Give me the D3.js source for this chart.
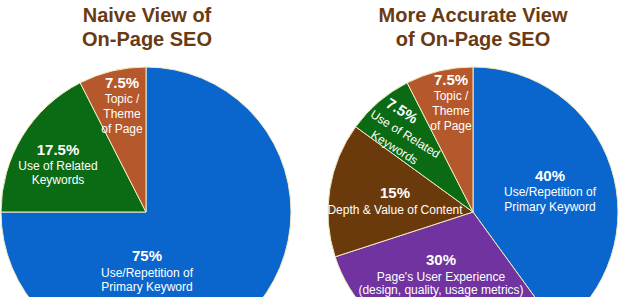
<!DOCTYPE html>
<html><head><meta charset="utf-8">
<script src="https://cdn.jsdelivr.net/npm/d3@7/dist/d3.min.js"></script>
<style>html,body{margin:0;padding:0;background:#fff;}svg{display:block;}</style>
</head><body>
<svg id="c" width="620" height="297"></svg>
<script>
// ---- data ----
const leftTitle = ["Naive View of", "On-Page SEO"];
const rightTitle = ["More Accurate View", "of On-Page SEO"];

const leftCategories = ["Use/Repetition of Primary Keyword", "Use of Related Keywords", "Topic / Theme of Page"];
const leftValues = [75, 17.5, 7.5];
const leftPctLabels = ["75%", "17.5%", "7.5%"];
const leftSubLabels = [["Use/Repetition of", "Primary Keyword"], ["Use of Related", "Keywords"], ["Topic /", "Theme", "of Page"]];

const rightCategories = ["Use/Repetition of Primary Keyword", "Page's User Experience", "Depth & Value of Content", "Use of Related Keywords", "Topic / Theme of Page"];
const rightValues = [40, 30, 15, 7.5, 7.5];
const rightPctLabels = ["40%", "30%", "15%", "7.5%", "7.5%"];
const rightSubLabels = [["Use/Repetition of", "Primary Keyword"], ["Page's User Experience", "(design, quality, usage metrics)"], ["Depth & Value of Content"], ["Use of Related", "Keywords"], ["Topic /", "Theme", "of Page"]];

// ---- styling / layout ----
const colorMap = {
  "Use/Repetition of Primary Keyword": "#0a66cc",
  "Use of Related Keywords": "#0b6a14",
  "Topic / Theme of Page": "#b5582b",
  "Page's User Experience": "#7133a0",
  "Depth & Value of Content": "#6b3a0c"
};
const font = "'Liberation Sans', Arial, sans-serif";
const svg = d3.select("#c");

// label layout (x, first baseline, line step, rotation, per-line x offsets)
const leftLabelLayout = [
  {x: 147, y: 261, sub: [277, 291]},
  {x: 58, y: 155, sub: [170, 184]},
  {x: 122, y: 88, sub: [103, 118, 133]}
];
const rightLabelLayout = [
  {x: 550, y: 181, sub: [196, 211]},
  {x: 441, y: 265, sub: [281, 294]},
  {x: 395, y: 198, sub: [214]},
  {x: 402, y: 111, rot: 32, pctY: 5, subPos: [[15, 22], [13, 39]]},
  {x: 451, y: 85, sub: [100, 115, 130]}
];

function drawPie(cx, cy, r, cats, vals, pct, subs, layout, title, titleX) {
  const pie = d3.pie().sort(null).value(d => d.v);
  const arc = d3.arc().innerRadius(0).outerRadius(r);
  const data = cats.map((c, i) => ({c, v: vals[i]}));
  const g = svg.append("g").attr("transform", `translate(${cx},${cy})`);
  g.selectAll("path").data(pie(data)).join("path")
    .attr("d", arc)
    .attr("fill", d => colorMap[d.data.c])
    .attr("stroke", "#f3ebc0")
    .attr("stroke-width", 1)
    .attr("stroke-linejoin", "round");

  layout.forEach((L, i) => {
    if (L.rot !== undefined) {
      const lg = svg.append("g").attr("transform", `translate(${L.x},${L.y}) rotate(${L.rot})`);
      lg.append("text").attr("x", 0).attr("y", L.pctY).attr("text-anchor", "middle")
        .attr("font-family", font).attr("font-weight", "bold").attr("font-size", 15)
        .attr("fill", "#fff").text(pct[i]);
      subs[i].forEach((s, j) => {
        lg.append("text").attr("x", L.subPos[j][0]).attr("y", L.subPos[j][1]).attr("text-anchor", "middle")
          .attr("font-family", font).attr("font-size", 12).attr("fill", "#fff").text(s);
      });
    } else {
      svg.append("text").attr("x", L.x).attr("y", L.y).attr("text-anchor", "middle")
        .attr("font-family", font).attr("font-weight", "bold").attr("font-size", 15)
        .attr("fill", "#fff").text(pct[i]);
      subs[i].forEach((s, j) => {
        svg.append("text").attr("x", L.x).attr("y", L.sub[j]).attr("text-anchor", "middle")
          .attr("font-family", font).attr("font-size", 12).attr("fill", "#fff").text(s);
      });
    }
  });

  title.forEach((t, j) => {
    svg.append("text").attr("x", titleX).attr("y", 22 + j * 24).attr("text-anchor", "middle")
      .attr("font-family", font).attr("font-weight", "bold").attr("font-size", 20)
      .attr("fill", "#6a3a12").text(t);
  });
}

drawPie(146, 212, 145, leftCategories, leftValues, leftPctLabels, leftSubLabels, leftLabelLayout, leftTitle, 147);
drawPie(473, 212, 145, rightCategories, rightValues, rightPctLabels, rightSubLabels, rightLabelLayout, rightTitle, 473);
</script>
</body></html>
